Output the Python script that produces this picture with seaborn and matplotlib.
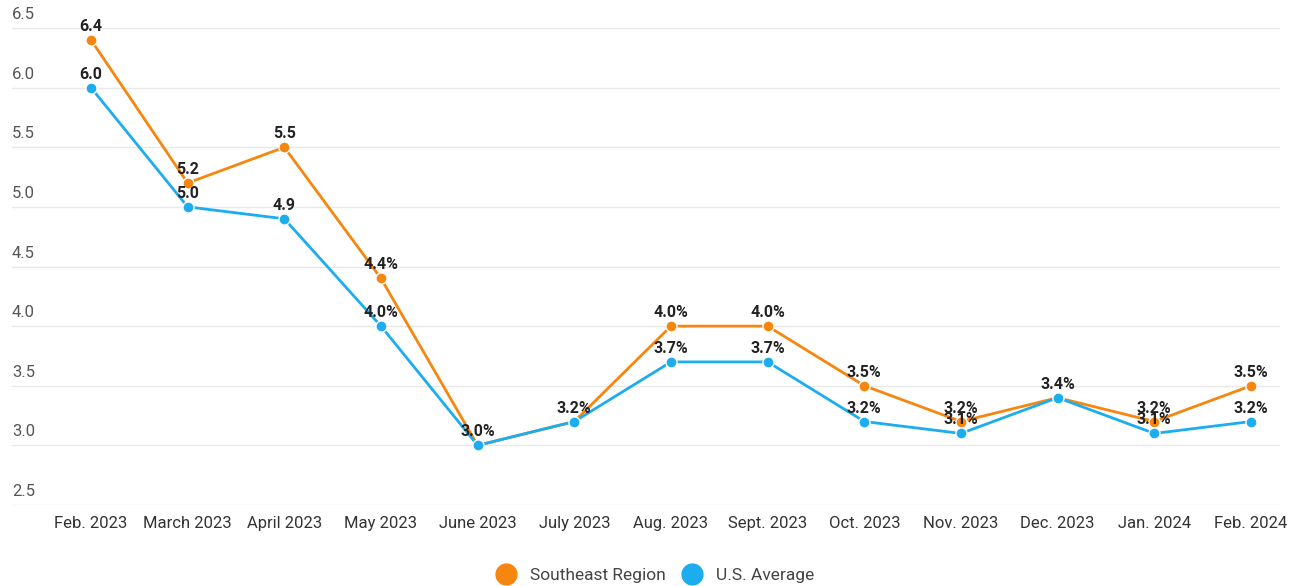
import matplotlib
matplotlib.use("Agg")
import matplotlib.pyplot as plt
import seaborn as sns
import pandas as pd

months = ["Feb. 2023", "March 2023", "April 2023", "May 2023", "June 2023",
          "July 2023", "Aug. 2023", "Sept. 2023", "Oct. 2023", "Nov. 2023",
          "Dec. 2023", "Jan. 2024", "Feb. 2024"]
southeast = [6.4, 5.2, 5.5, 4.4, 3.0, 3.2, 4.0, 4.0, 3.5, 3.2, 3.4, 3.2, 3.5]
us_avg = [6.0, 5.0, 4.9, 4.0, 3.0, 3.2, 3.7, 3.7, 3.2, 3.1, 3.4, 3.1, 3.2]
se_labels = ["6.4", "5.2", "5.5", "4.4%", "", "", "4.0%", "4.0%", "3.5%",
             "3.2%", "", "3.2%", "3.5%"]
us_labels = ["6.0", "5.0", "4.9", "4.0%", "3.0%", "3.2%", "3.7%", "3.7%",
             "3.2%", "3.1%", "3.4%", "3.1%", "3.2%"]
yticks = [2.5, 3.0, 3.5, 4.0, 4.5, 5.0, 5.5, 6.0, 6.5]

colors = {"Southeast Region": "#F7860F", "U.S. Average": "#1CADF0"}

df = pd.DataFrame({
    "x": list(range(len(months))) * 2,
    "value": southeast + us_avg,
    "series": ["Southeast Region"] * len(months) + ["U.S. Average"] * len(months),
})

sns.set_style("white")
plt.rcParams["font.family"] = ["Roboto", "DejaVu Sans"]

fig = plt.figure(figsize=(13.03, 5.86), dpi=100)
ax = fig.add_axes([12 / 1303, 1 - 505 / 586, (1280 - 12) / 1303, (505 - 28) / 586])

sns.lineplot(data=df, x="x", y="value", hue="series", palette=colors,
             marker="o", markersize=8, markeredgecolor="white",
             markeredgewidth=1, linewidth=2, ax=ax, legend=False)

ax.set_xlim(-0.817, 12.3)
ax.set_ylim(2.5, 6.5)
ax.set_yticks(yticks)
ax.yaxis.grid(True, color="#e8e8e8", linewidth=1)
ax.xaxis.grid(False)
ax.set_yticklabels([])
ax.tick_params(axis="y", length=0)
for y in yticks:
    ax.text(0, y + 0.05, f"{y:.1f}", transform=ax.get_yaxis_transform(),
            ha="left", va="bottom", fontsize=12, color="#555555")

ax.set_xticks(range(len(months)))
ax.set_xticklabels(months, fontsize=12, color="#333333")
ax.tick_params(axis="x", length=0, pad=8)
ax.set_xlabel("")
ax.set_ylabel("")
for s in ax.spines.values():
    s.set_visible(False)

for i in range(len(months)):
    if se_labels[i]:
        ax.text(i, southeast[i] + 0.05, se_labels[i], ha="center", va="bottom",
                fontsize=11.5, fontweight="semibold", color="#222222", clip_on=False)
    if us_labels[i]:
        ax.text(i, us_avg[i] + 0.05, us_labels[i], ha="center", va="bottom",
                fontsize=11.5, fontweight="semibold", color="#222222", clip_on=False)

handles = [plt.Line2D([], [], marker="o", linestyle="", markersize=15,
                      color=c, label=k) for k, c in colors.items()]
fig.legend(handles=handles, loc="center", bbox_to_anchor=(0.5, 1 - 575 / 586),
           ncol=2, frameon=False, fontsize=12.5, handletextpad=0.4,
           columnspacing=0.5, labelcolor="#444444")

fig.savefig("out.png", dpi=100)
